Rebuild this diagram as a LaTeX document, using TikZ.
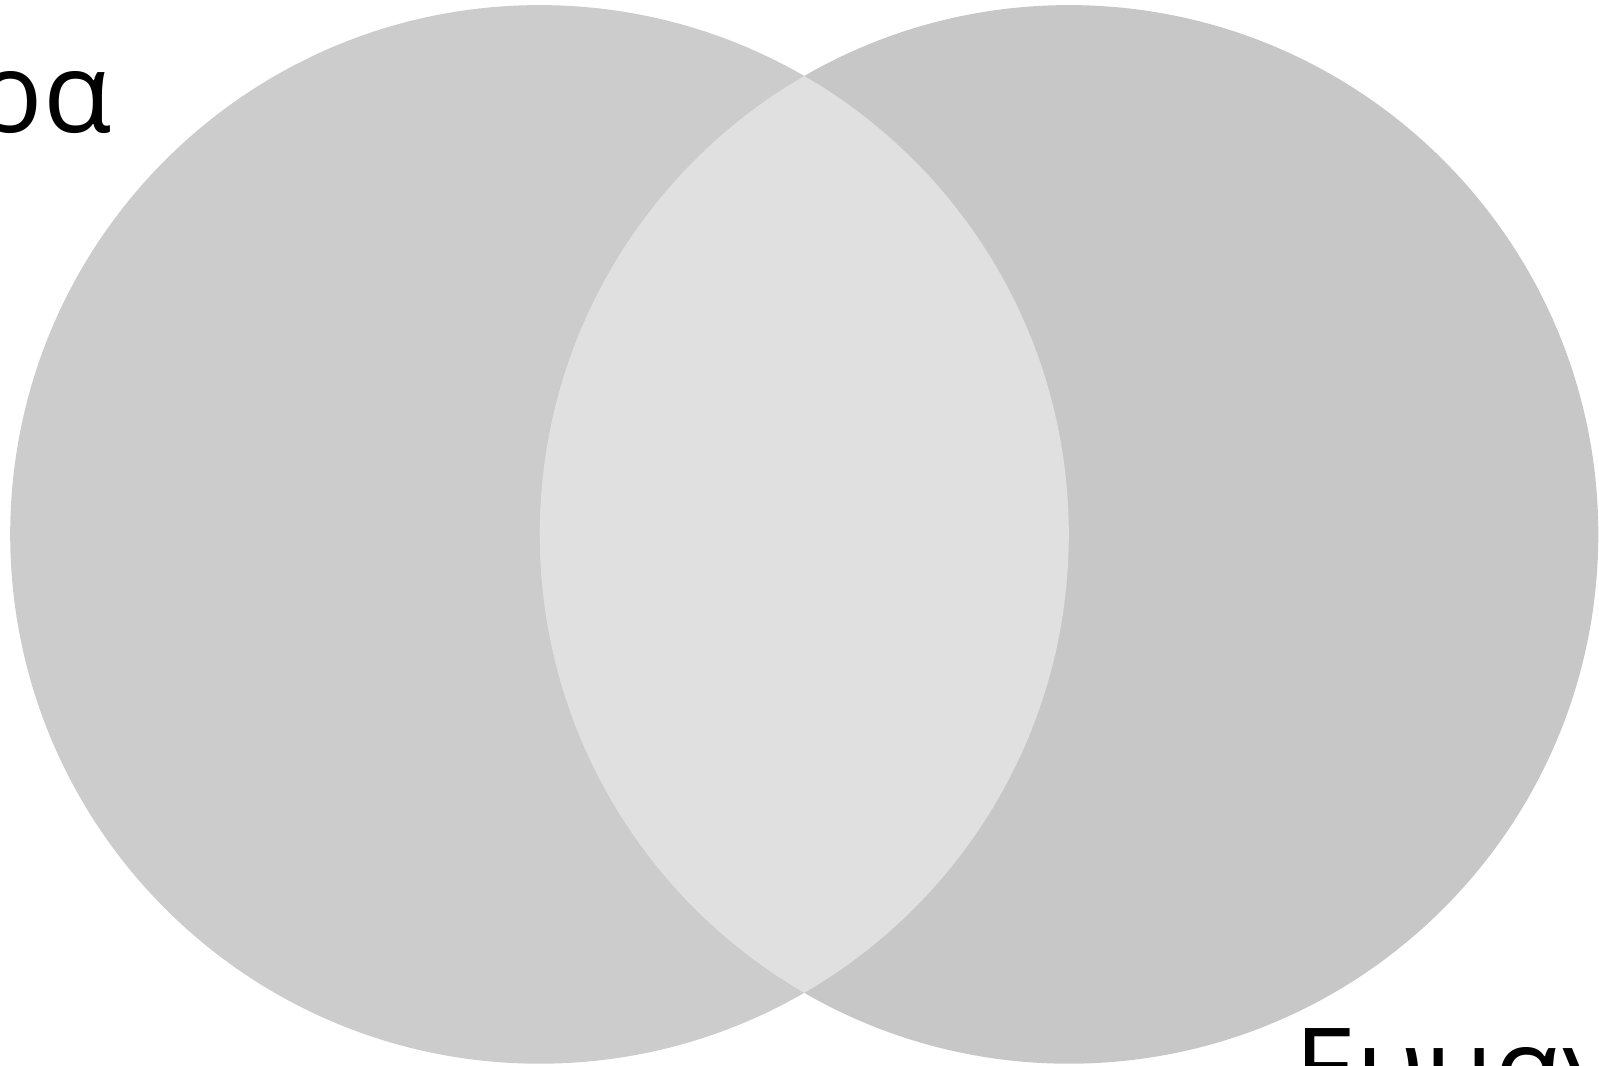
\documentclass[tikz,border=0pt]{standalone}
\usepackage{fontspec}
\setmainfont{Open Sans}
\definecolor{leftc}{HTML}{CCCCCC}
\definecolor{rightc}{HTML}{C7C7C7}
\definecolor{midc}{HTML}{E0E0E0}
\tikzset{
  setlabel/.style={inner sep=0pt, font=\fontsize{112}{130}\selectfont, text=black}
}
\begin{document}
\begin{tikzpicture}[x=1pt,y=-1pt]
\useasboundingbox (0,0) rectangle (1599,1066);
\coordinate (cl) at (539.5,534.4);
\coordinate (cr) at (1069,534.4);
\fill[leftc] (cl) circle[radius=529.3];
\fill[rightc] (cr) circle[radius=529.3];
\begin{scope}
  \clip (cl) circle[radius=529.3];
  \fill[midc] (cr) circle[radius=529.3];
\end{scope}
\node[setlabel, anchor=base east] (la) at (112,132) {Σφαίρα};
\node[setlabel, anchor=base west] (lb) at (1294,1108) {Ευμαγ};
\end{tikzpicture}
\end{document}
